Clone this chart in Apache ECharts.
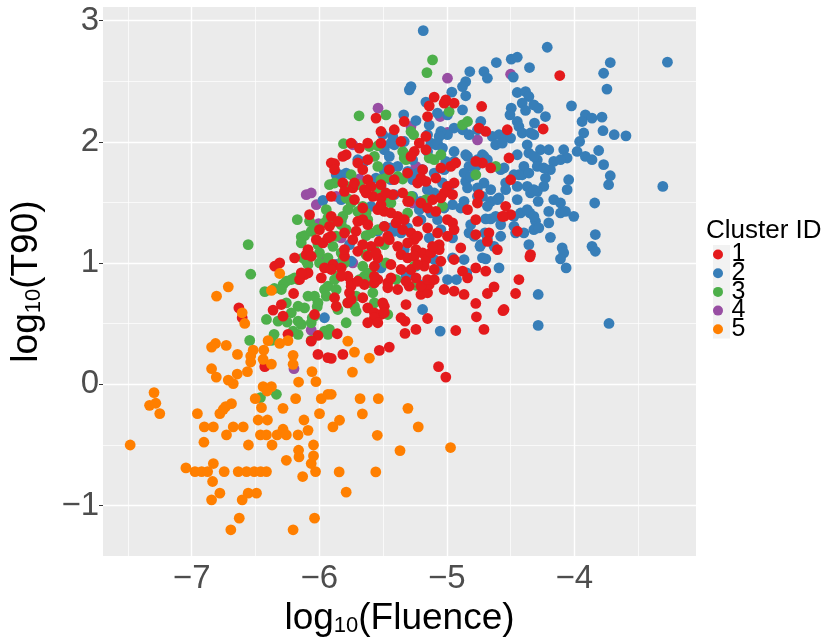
<!DOCTYPE html>
<html>
<head>
<meta charset="utf-8">
<script src="https://cdn.jsdelivr.net/npm/echarts@6/dist/echarts.min.js"></script>
<style>
html, body { margin: 0; padding: 0; background: #fff; }
#chart { width: 830px; height: 642px; }
</style>
</head>
<body>
<div id="chart"></div>
<script>
// log10(Fluence), log10(T90) per cluster
var cluster1 = [
	[-5.880,0.714],[-5.750,0.837],[-5.646,0.823],[-5.568,0.837],[-5.463,0.796],[-5.659,0.714],[-5.620,0.631],[-5.568,0.590],
	[-5.516,0.576],[-5.490,0.644],[-5.320,0.658],[-5.295,0.809],[-5.203,0.741],[-5.151,0.755],[-5.138,0.823],[-5.328,0.521],
	[-5.328,0.420],[-5.242,0.453],[-5.151,0.543],[-5.021,0.782],[-4.943,0.768],[-4.865,0.741],[-4.773,0.667],[-4.768,0.557],
	[-4.709,0.453],[-4.682,0.749],[-4.630,0.804],[-4.560,0.607],[-4.461,0.749],[-4.435,0.864],[-4.930,0.444],[-5.859,0.417],
	[-5.815,0.247],[-5.906,0.214],[-5.529,0.280],[-5.451,0.307],[-5.065,0.146],[-5.008,0.060],[-6.630,0.631],[-6.604,0.549],
	[-6.362,0.612],[-6.284,0.562],[-6.201,0.749],[-6.115,0.905],[-5.984,0.878],[-6.010,0.403],[-6.063,0.356],[-6.245,0.412],
	[-6.427,0.146],[-6.010,0.247],[-5.932,0.220],[-6.297,0.658],[-6.037,0.576],[-5.789,1.893],[-5.698,1.825],[-5.620,1.852],
	[-5.659,1.770],[-5.880,1.819],[-5.815,1.660],[-5.802,1.591],[-5.451,1.770],[-5.412,1.687],[-5.307,1.742],[-5.229,1.660],
	[-5.190,1.770],[-5.646,1.605],[-5.580,1.550],[-5.516,1.537],[-5.424,1.564],[-5.346,1.578],[-5.295,1.509],[-6.076,1.399],
	[-6.088,1.111],[-6.102,1.070],[-5.920,1.303],[-5.906,1.385],[-5.698,1.344],[-5.659,1.358],[-5.620,1.317],[-5.490,1.426],
	[-5.438,1.413],[-5.385,1.385],[-5.334,1.358],[-5.737,1.193],[-5.711,1.262],[-6.023,1.193],[-5.971,1.166],[-6.193,1.043],
	[-6.088,0.919],[-5.893,0.988],[-5.802,1.056],[-5.828,0.960],[-5.698,1.097],[-5.594,1.138],[-5.529,1.179],[-5.568,0.974],
	[-5.541,1.043],[-5.451,1.193],[-5.385,1.138],[-5.359,1.070],[-5.307,1.043],[-5.242,1.111],[-5.190,1.084],[-5.438,0.988],
	[-5.281,1.249],[-5.776,0.891],[-5.750,0.809],[-5.541,0.864],[-5.463,0.837],[-5.203,0.809],[-5.151,0.864],[-5.867,0.644],
	[-5.502,0.672],[-5.490,0.590],[-5.568,0.549],[-6.154,0.864],[-5.099,2.368],[-5.021,2.318],[-4.943,2.318],[-4.727,2.291],
	[-5.151,2.208],[-5.334,2.167],[-5.359,2.002],[-5.164,2.044],[-5.216,1.989],[-4.748,2.113],[-4.695,2.085],[-4.526,2.099],
	[-4.513,1.866],[-4.656,1.784],[-4.721,1.825],[-4.773,1.838],[-5.047,1.784],[-4.969,1.797],[-4.930,1.825],[-5.203,1.701],
	[-5.164,1.673],[-5.086,1.701],[-4.995,1.632],[-4.943,1.660],[-5.021,1.578],[-4.955,1.564],[-5.307,1.509],[-5.203,1.495],
	[-5.151,1.454],[-5.086,1.426],[-4.748,1.564],[-4.760,1.495],[-4.500,1.687],[-4.539,1.468],[-4.500,1.399],[-4.448,1.262],
	[-4.670,1.249],[-4.682,1.179],[-4.995,1.358],[-4.955,1.331],[-4.943,1.276],[-5.346,1.276],[-5.255,1.193],[-5.151,1.290],
	[-5.073,1.249],[-5.060,1.152],[-5.255,1.056],[-5.164,1.029],[-5.125,1.084],[-5.060,1.111],[-4.891,1.125],[-4.943,1.029],
	[-5.047,1.015],[-5.177,0.974],[-5.099,0.947],[-4.877,0.933],[-4.838,0.878],[-4.695,0.933],[-4.604,1.111],[-4.773,0.960],
	[-5.320,0.850],[-5.242,0.878],[-5.099,0.864],[-4.552,0.617],[-5.359,0.549],[-4.115,2.546],[-4.245,2.105],[-5.138,2.296],
	[-5.008,2.346],[-4.349,1.051],[-4.552,1.385],[-5.750,1.989],[-5.620,1.989],[-5.685,1.948],[-5.906,1.825],[-5.164,1.934],
	[-5.412,2.099],[-5.906,1.550],[-5.737,1.619],[-5.541,1.440],[-5.229,1.344],[-5.998,1.276],[-5.932,1.207],[-5.659,1.152],
	[-5.229,1.221],[-6.063,1.056],[-6.349,0.974],[-6.310,1.002],[-6.141,0.919],[-5.959,0.960],[-5.698,0.850],[-5.568,0.891],
	[-5.438,0.878],[-5.385,0.782],[-5.763,0.755],[-5.776,0.672],
	[-5.555,2.195],[-5.516,2.085],[-5.255,1.920],[-5.281,1.879],[-5.620,1.687],[-5.594,1.632],[-5.633,1.578],[-5.516,1.646],
	[-5.477,1.578],[-5.047,1.537],[-5.112,1.523],[-5.516,1.481],[-5.724,1.523],[-5.659,1.454],[-5.398,1.331],[-5.490,1.303],
	[-5.463,1.221],[-4.995,1.221],[-5.112,1.138],[-4.838,1.440],[-4.773,1.358],[-4.773,1.235],[-4.565,1.385],[-4.344,1.070],
	[-5.620,0.508],[-5.541,0.508],[-5.750,0.700],[-5.802,1.111],[-5.620,1.056],[-5.555,1.084],[-5.307,1.166],[-5.359,0.947],
	[-5.281,0.947],[-5.229,0.988],[-5.906,0.947],[-5.828,0.891],[-5.516,1.989],[-5.815,1.879],[-5.880,1.770],[-5.724,1.660],
	[-5.854,1.344],[-5.802,1.249],[-5.906,1.221]
];
var cluster2 = [
	[-5.185,2.916],[-4.213,2.779],[-3.271,2.656],[-3.719,2.653],[-3.771,2.565],[-3.745,2.434],[-4.612,2.653],[-4.495,2.681],
	[-4.448,2.697],[-4.352,2.612],[-4.820,2.579],[-4.709,2.579],[-4.682,2.524],[-4.479,2.533],[-5.281,2.455],[-4.852,2.496],
	[-4.877,2.455],[-4.961,2.409],[-4.852,2.379],[-5.164,2.327],[-5.008,2.332],[-4.877,2.263],[-4.448,2.406],[-4.383,2.414],
	[-4.357,2.373],[-4.409,2.319],[-4.495,2.277],[-4.505,2.222],[-4.383,2.258],[-4.023,2.296],[-4.284,2.277],[-4.227,2.208],
	[-3.914,2.222],[-3.940,2.167],[-3.862,2.195],[-3.784,2.203],[-3.927,2.072],[-3.959,2.002],[-3.776,2.091],[-3.688,2.058],
	[-3.596,2.049],[-4.313,2.154],[-4.448,2.167],[-4.435,2.126],[-4.318,2.058],[-5.338,2.222],[-5.242,2.175],[-4.734,2.167],
	[-4.760,2.099],[-4.943,2.113],[-4.877,2.099],[-4.995,2.058],[-4.826,2.058],[-5.047,2.085],[-5.060,2.044],[-5.151,2.058],
	[-5.438,1.989],[-5.502,2.058],[-4.643,2.044],[-4.591,2.058],[-4.539,2.044],[-4.500,2.030],[-4.617,1.975],[-4.565,1.989],
	[-4.370,1.975],[-4.357,1.907],[-4.266,1.934],[-4.201,1.934],[-4.084,1.934],[-4.057,1.866],[-4.291,1.852],[-4.291,1.797],
	[-3.979,1.920],[-3.914,1.879],[-3.862,1.852],[-3.810,1.928],[-3.771,1.811],[-3.719,1.720],[-3.732,1.646],[-3.307,1.632],
	[-4.162,1.838],[-4.109,1.852],[-4.188,1.770],[-4.240,1.784],[-4.552,1.784],[-4.396,1.797],[-4.409,1.728],[-4.227,1.701],
	[-4.240,1.632],[-4.045,1.687],[-4.057,1.605],[-4.370,1.632],[-4.291,1.591],[-4.539,1.660],[-4.539,1.605],[-4.448,1.632],
	[-4.435,1.728],[-4.162,1.523],[-4.109,1.495],[-4.284,1.509],[-3.841,1.495],[-4.005,1.385],[-4.201,1.426],[-4.109,1.413],
	[-4.070,1.426],[-4.474,1.385],[-4.422,1.413],[-4.349,1.413],[-4.305,1.344],[-4.318,1.276],[-4.201,1.331],[-4.188,1.212],
	[-4.396,1.249],[-4.461,1.249],[-3.836,1.235],[-3.862,1.138],[-3.836,1.097],[-4.096,1.125],[-4.084,1.084],[-4.109,1.035],
	[-4.065,0.960],[-4.357,1.152],[-4.656,1.509],[-4.591,1.537],[-4.695,1.364],[-4.656,1.364],[-4.617,1.385],[-4.701,1.249],
	[-4.682,1.207],[-4.740,1.138],[-4.695,1.035],[-4.591,0.960],[-4.284,0.741],[-4.284,0.486],[-3.729,0.502],[-4.852,1.673],
	[-4.838,1.619],[-4.709,1.660],[-4.760,1.619],[-4.760,1.550],[-4.865,1.509],[-4.891,1.454],[-4.813,1.317],[-4.826,1.249],
	[-4.787,1.221],[-4.955,1.207],[-4.955,1.043],[-4.865,1.029],[-4.844,0.919],[-5.190,0.617],[-5.052,0.439],[-4.924,0.864],
	[-4.995,0.864],[-4.760,1.852],[-4.773,1.797],[-4.709,1.879],[-5.125,1.413],[-5.073,1.358],[-5.203,1.358],[-5.138,1.207],
	[-5.099,1.029],[-5.242,0.974],[-5.307,0.891],[-5.412,1.262],[-5.490,1.303],[-5.463,1.797],[-5.490,1.756],[-5.438,1.687],
	[-5.307,1.756],[-5.268,1.687],[-5.125,1.989],[-5.086,1.975],[-5.151,1.920],[-4.943,1.920],[-4.943,1.838],[-4.838,1.879],
	[-4.826,1.797],[-5.008,1.838],[-5.021,1.770],[-5.034,1.660],[-4.982,1.632],[-5.099,1.578],[-5.151,1.605],[-5.268,1.550],
	[-5.203,1.509],[-5.412,1.564],[-5.516,1.632],[-5.424,2.044],[-5.698,1.852],[-5.646,1.838],[-5.841,1.728],[-5.789,1.742],
	[-5.971,1.517],[-5.828,1.344],[-5.594,1.468],[-5.516,1.454],[-5.438,1.784],[-5.385,1.797],[-5.268,1.852],[-5.229,1.742],
	[-5.190,1.770],[-5.216,1.440],[-5.334,1.358],[-5.307,1.290],[-5.541,1.262],[-5.763,1.152],[-5.516,0.960],[-5.320,0.891],
	[-5.216,0.823],[-5.750,1.015],[-5.867,0.988],[-5.959,0.549],[-5.334,2.002],[-5.438,1.290],
	[-5.138,2.138],[-5.073,2.236],[-4.995,2.222],[-5.412,1.975],[-5.073,1.989],[-5.034,1.948],[-4.852,1.893],[-4.721,1.893],
	[-4.682,1.852],[-4.865,1.742],[-4.813,1.714],[-4.409,2.072],[-4.448,1.893],[-4.578,1.770],[-4.474,1.728],[-4.344,1.578],
	[-4.656,1.605],[-4.721,1.550],[-4.682,1.468],[-4.604,1.523],[-4.448,1.523],[-4.370,1.440],[-4.578,1.317],[-4.474,1.303],
	[-4.318,1.385],[-4.734,1.152],[-4.721,1.043],[-5.047,1.276],[-5.021,1.454],[-4.955,1.481],[-5.281,1.728],[-5.099,1.742],
	[-5.555,1.701],[-5.828,1.523],[-5.359,1.249],[-5.334,1.111],[-5.073,0.947],[-4.279,1.290],[-4.578,1.221],[-4.630,1.138],
	[-4.318,2.304],[-4.344,2.072],[-4.318,1.879],[-4.318,1.605],[-4.357,1.742],[-5.294,2.428],[-5.867,1.728],[-5.490,1.934],
	[-5.451,1.879]
];
var cluster3 = [
	[-6.537,0.908],[-6.427,0.765],[-6.352,0.790],[-6.284,0.823],[-6.258,0.850],[-6.219,0.864],[-6.193,0.878],[-6.258,0.672],
	[-6.166,0.644],[-6.115,0.631],[-6.088,0.727],[-6.016,0.640],[-6.414,0.535],[-6.323,0.521],[-6.252,0.513],[-6.166,0.521],
	[-6.141,0.494],[-6.055,0.549],[-6.545,0.362],[-6.375,0.362],[-6.354,0.412],[-6.166,0.412],[-6.063,0.362],[-5.932,0.412],
	[-6.461,-0.109],[-6.336,-0.082],[-5.810,1.984],[-5.607,1.961],[-5.541,1.967],[-5.334,1.901],[-5.260,2.058],[-5.880,1.660],
	[-5.797,1.638],[-5.750,1.728],[-5.541,1.605],[-5.385,1.714],[-5.346,1.693],[-5.945,1.440],[-5.789,1.537],[-5.776,1.440],
	[-5.750,1.495],[-5.633,1.413],[-5.463,1.509],[-5.281,1.550],[-6.172,1.358],[-6.076,1.344],[-6.049,1.270],[-5.932,1.372],
	[-5.906,1.331],[-5.828,1.317],[-5.789,1.276],[-5.620,1.358],[-5.594,1.249],[-5.541,1.276],[-6.141,1.216],[-6.115,1.226],
	[-6.010,1.152],[-5.998,1.084],[-5.893,1.138],[-5.828,1.084],[-5.633,1.226],[-5.490,1.152],[-6.557,1.152],[-6.063,1.056],
	[-6.088,0.988],[-5.932,1.043],[-5.815,1.029],[-5.659,0.974],[-5.646,0.891],[-6.297,0.782],[-6.010,0.672],[-5.959,0.782],
	[-5.932,0.809],[-5.880,0.864],[-5.854,0.891],[-5.580,0.755],[-5.568,0.672],[-5.724,0.644],[-5.776,0.672],[-5.398,0.864],
	[-5.242,0.817],[-5.568,1.879],[-5.334,1.866],[-5.698,1.426],[-5.659,1.468],[-5.516,1.687],[-5.438,1.495],[-6.063,1.262],
	[-5.959,1.331],[-5.633,1.070],[-5.607,0.919],[-5.685,0.864],[-6.166,0.864],[-5.945,0.727],[-5.711,0.603],[-5.463,0.576],
	[-5.789,0.508],[-6.219,0.590],[-6.205,0.439],[-5.959,0.439],[-5.156,2.570],[-5.112,2.675],[-4.982,2.249],[-4.877,2.140],
	[-4.838,2.167],[-5.281,2.085],[-5.346,1.920],[-5.320,1.852],[-5.138,1.866],[-5.099,1.852],[-5.047,1.893],[-4.773,1.728],
	[-5.164,1.523],[-5.034,1.468],[-5.307,1.413],[-5.255,0.974],[-4.617,1.797],[-5.688,2.214],[-5.477,2.222],
	[-5.541,1.797],[-5.477,1.701],[-5.685,1.646],[-5.763,1.523],[-5.685,1.413],[-5.646,1.372],[-5.815,1.385],[-6.037,1.290],
	[-5.867,1.221],[-5.568,1.111],[-6.127,1.043],[-6.141,1.166],[-6.102,1.015],[-5.998,1.002],[-5.802,1.002],[-5.594,0.837],
	[-5.477,1.002],[-5.711,0.727],[-5.867,0.782],[-6.037,0.727],[-5.854,0.617],[-6.037,0.562],[-6.063,0.508],[-5.920,0.453],
	[-5.920,1.646]
];
var cluster4 = [
	[-4.995,2.524],[-4.500,2.557],[-5.052,2.208],[-5.281,2.126],[-5.539,2.277],[-6.102,1.564],[-6.063,1.578],[-6.023,1.481],
	[-6.005,1.325],[-5.828,1.207],[-5.737,1.002],[-5.945,1.029],[-5.242,1.797],[-5.151,1.605],[-5.685,1.693],[-5.737,1.975],
	[-6.063,0.447],[-6.198,0.129],[-4.995,2.077],[-4.760,2.016],[-4.813,1.797],[-5.268,1.495],[-5.203,1.770],[-5.867,1.550]
];
var cluster5 = [
	[-6.713,0.804],[-6.805,0.727],[-6.604,0.590],[-6.584,0.502],[-6.375,0.774],[-6.310,0.914],[-6.844,0.307],[-6.813,0.337],
	[-6.729,0.321],[-6.641,0.247],[-6.518,0.282],[-6.537,0.233],[-6.537,0.184],[-6.435,0.282],[-6.440,0.206],[-6.375,0.167],
	[-6.401,0.360],[-6.310,0.337],[-6.245,0.360],[-6.844,0.129],[-6.807,0.060],[-6.713,0.035],[-6.674,0.006],[-6.643,0.085],
	[-6.563,0.105],[-6.205,0.239],[-6.205,0.165],[-6.057,0.105],[-6.026,0.022],[-6.162,0.019],[-6.440,-0.019],[-6.375,-0.019],
	[-6.409,-0.055],[-7.295,-0.068],[-7.330,-0.173],[-7.281,-0.156],[-7.250,-0.241],[-6.955,-0.241],[-6.779,-0.241],[-6.752,-0.206],
	[-6.734,-0.184],[-6.688,-0.159],[-6.502,-0.118],[-6.453,-0.192],[-6.284,-0.198],[-6.185,-0.118],[-5.984,-0.118],[-5.932,-0.082],
	[-5.998,-0.241],[-6.901,-0.351],[-6.830,-0.351],[-6.674,-0.351],[-6.596,-0.351],[-6.479,-0.294],[-6.406,-0.294],[-6.120,-0.294],
	[-6.088,-0.379],[-6.727,-0.417],[-6.461,-0.417],[-6.414,-0.417],[-6.330,-0.417],[-6.284,-0.370],[-6.258,-0.417],[-6.166,-0.417],
	[-7.482,-0.500],[-6.904,-0.477],[-6.555,-0.500],[-6.370,-0.500],[-6.045,-0.500],[-6.162,-0.543],[-6.159,-0.598],[-6.258,-0.626],
	[-6.045,-0.590],[-6.063,-0.653],[-6.029,-0.719],[-7.045,-0.689],[-6.974,-0.719],[-6.922,-0.719],[-6.875,-0.719],[-6.830,-0.653],
	[-6.745,-0.719],[-6.635,-0.719],[-6.570,-0.719],[-6.510,-0.719],[-6.459,-0.719],[-6.414,-0.719],[-6.836,-0.801],[-6.130,-0.760],
	[-6.779,-0.897],[-6.844,-0.952],[-6.557,-0.897],[-6.492,-0.897],[-6.604,-0.952],[-6.627,-1.103],[-6.693,-1.199],[-6.037,-1.103],
	[-6.205,-1.199],[-5.776,0.356],[-5.724,0.266],[-5.607,0.216],[-5.740,0.101],[-5.906,-0.082],[-5.680,-0.118],[-5.537,-0.118],
	[-5.305,-0.198],[-5.662,-0.244],[-5.841,-0.296],[-5.893,-0.351],[-5.224,-0.351],[-5.545,-0.420],[-5.367,-0.546],[-4.971,-0.521],
	[-5.844,-0.722],[-5.557,-0.722],[-5.789,-0.889]
];

var clusterNames = ['1', '2', '3', '4', '5'];
var clusterColors = ['#E41A1C', '#377EB8', '#4DAF4A', '#984EA3', '#FF7F00'];
var xTicks = [-7, -6, -5, -4];
var yTicks = [-1, 0, 1, 2, 3];
var xMinor = [-7.5, -6.5, -5.5, -4.5, -3.5];
var yMinor = [-0.5, 0.5, 1.5, 2.5];
var xRange = [-7.695, -3.047];
var yRange = [-1.416, 3.111];

var FONT = 'Liberation Sans, Arial, Helvetica, sans-serif';

function minusLabel(v) {
	return v < 0 ? '\u2212' + Math.abs(v) : String(v);
}

// panel grid lines as segments spanning the panel
function gridSegments(xs, ys) {
	var out = [];
	xs.forEach(function(x) {
		out.push({coords: [[x, yRange[0]], [x, yRange[1]]]});
	});
	ys.forEach(function(y) {
		out.push({coords: [[xRange[0], y], [xRange[1], y]]});
	});
	return out;
}

var myChart = echarts.init(document.getElementById('chart'), null, {renderer: 'canvas'});

var nameRich = {
	a: {fontSize: 37, lineHeight: 37, fontFamily: FONT, color: '#000'},
	b: {fontSize: 22, lineHeight: 12, verticalAlign: 'bottom', fontFamily: FONT, color: '#000'}
};

var series = [
	{
		type: 'lines', coordinateSystem: 'cartesian2d', silent: true, z: 1,
		animation: false, data: gridSegments(xMinor, yMinor),
		lineStyle: {color: '#ffffff', width: 0.7, opacity: 1}
	},
	{
		type: 'lines', coordinateSystem: 'cartesian2d', silent: true, z: 1,
		animation: false, data: gridSegments(xTicks, yTicks),
		lineStyle: {color: '#ffffff', width: 1.4, opacity: 1}
	}
];

// draw order roughly as the points overlap in the picture
var order = [3, 1, 2, 0, 4];
var clusters = [cluster1, cluster2, cluster3, cluster4, cluster5];
order.forEach(function(i) {
	series.push({
		name: clusterNames[i],
		type: 'scatter',
		z: 3,
		data: clusters[i],
		symbolSize: 10.8,
		itemStyle: {color: clusterColors[i], opacity: 1},
		animation: false
	});
});

option = {
	backgroundColor: '#ffffff',
	animation: false,
	grid: {
		left: 101, right: 134, top: 7, bottom: 85,
		show: true, backgroundColor: '#EBEBEB', borderWidth: 0
	},
	title: {
		text: 'Cluster ID',
		left: 706, top: 218, padding: 0,
		textStyle: {fontFamily: FONT, fontSize: 26, fontWeight: 'normal', color: '#000'}
	},
	legend: {
		data: clusterNames,
		orient: 'vertical',
		left: 713, top: 242,
		padding: 0,
		itemWidth: 17, itemHeight: 10, itemGap: -6.3,
		icon: 'circle',
		selectedMode: false,
		textStyle: {fontFamily: FONT, fontSize: 25, color: '#000'}
	},
	graphic: [{
		type: 'rect', z: 0, silent: true,
		shape: {x: 713, y: 245, width: 17, height: 93.5},
		style: {fill: '#F2F2F2'}
	}],
	xAxis: {
		type: 'value',
		min: xRange[0], max: xRange[1],
		name: '{a|log}{b|10}{a|(Fluence)}',
		nameLocation: 'middle', nameGap: 34,
		nameTextStyle: {rich: nameRich},
		axisLine: {show: false},
		axisTick: {show: true, length: 4, customValues: xTicks, lineStyle: {color: '#333333', width: 1}},
		axisLabel: {customValues: xTicks, formatter: minusLabel, margin: 6,
			fontFamily: FONT, fontSize: 33, color: '#4D4D4D'},
		splitLine: {show: false}
	},
	yAxis: {
		type: 'value',
		min: yRange[0], max: yRange[1],
		name: '{a|log}{b|10}{a|(T90)}',
		nameLocation: 'middle', nameGap: 58, nameRotate: 90,
		nameTextStyle: {rich: nameRich},
		axisLine: {show: false},
		axisTick: {show: true, length: 4, customValues: yTicks, lineStyle: {color: '#333333', width: 1}},
		axisLabel: {customValues: yTicks, formatter: minusLabel, margin: 4,
			fontFamily: FONT, fontSize: 33, color: '#4D4D4D'},
		splitLine: {show: false}
	},
	series: series
};
myChart.setOption(option);
</script>
</body>
</html>
